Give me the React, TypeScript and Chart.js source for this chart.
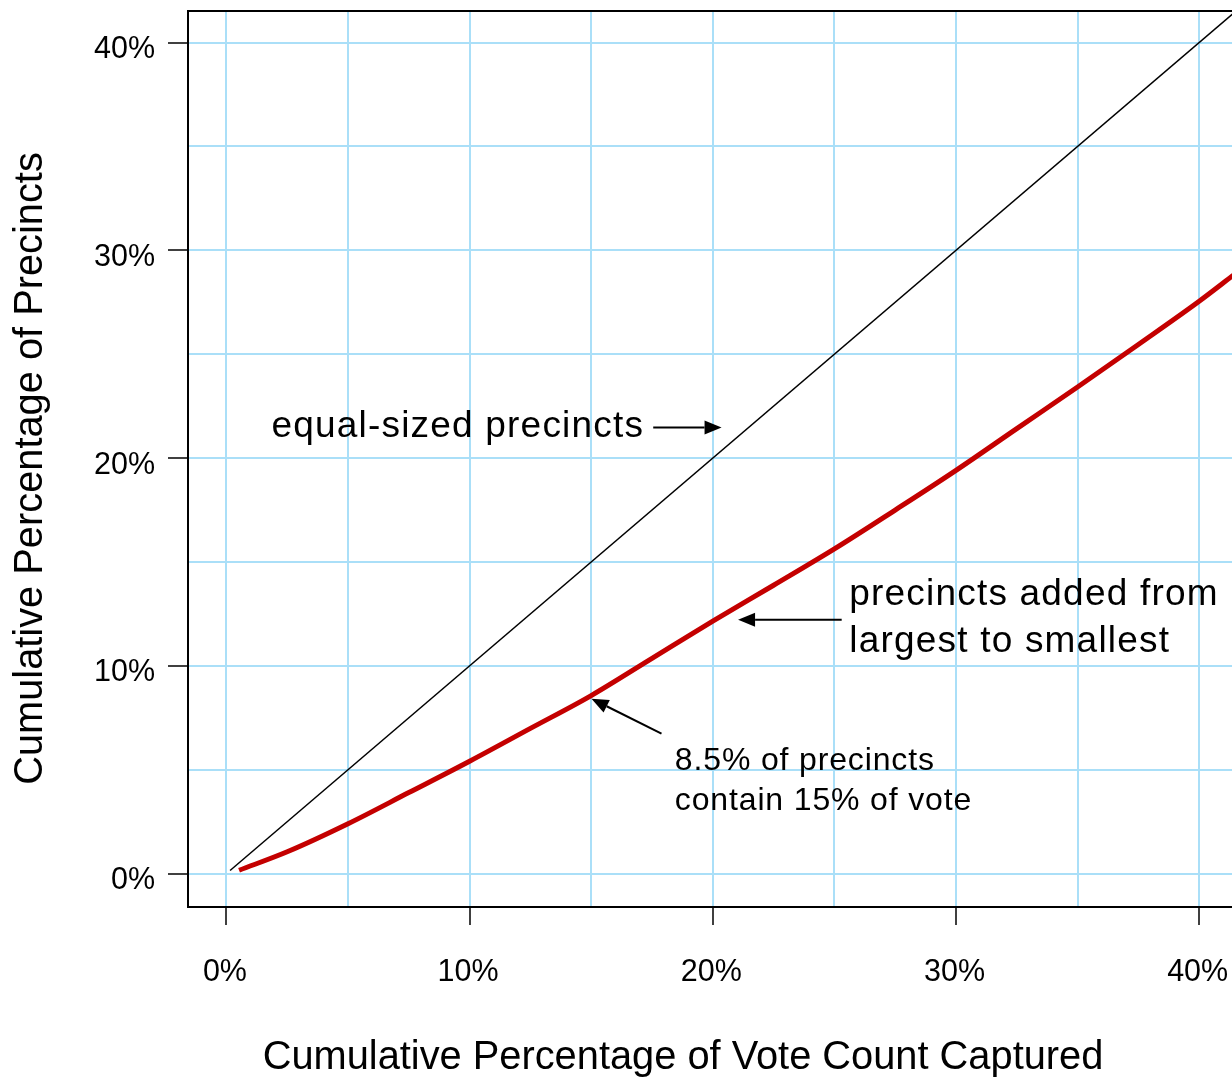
import React, { useEffect, useRef } from 'react';
import { Chart, registerables } from 'chart.js';

Chart.register(...registerables);

// ---- data (percent values) ----
const equalX = [0.15, 42];
const equalY = [0.15, 42];

const sortedX = [0.52, 2.5, 5, 7.5, 10, 12.5, 15, 17.5, 20, 22.5, 25, 27.5, 30, 32.5, 35, 37.5, 40, 41.4];
const sortedY = [0.16, 1.05, 2.4, 3.9, 5.41, 6.99, 8.57, 10.36, 12.15, 13.88, 15.63, 17.5, 19.41, 21.42, 23.42, 25.47, 27.55, 28.8];

const xTickValues = [0, 5, 10, 15, 20, 25, 30, 35, 40];
const yTickValues = [0, 5, 10, 15, 20, 25, 30, 35, 40];
const labelStep = 10;

const xTitle = 'Cumulative Percentage of Vote Count Captured';
const yTitle = 'Cumulative Percentage of Precincts';

// annotations (data coordinates, text baseline)
const noteLines = ['equal-sized precincts', 'precincts added from', 'largest to smallest', '8.5% of precincts', 'contain 15% of vote'];
const noteX = [1.85, 25.61, 25.61, 18.44, 18.44];
const noteY = [21.01, 12.91, 10.65, 4.97, 3.05];
const noteBig = [true, true, true, false, false];

const arrowFromX = [17.55, 25.3, 17.89];
const arrowFromY = [21.47, 12.22, 6.74];
const arrowToX = [20.36, 21.04, 15.01];
const arrowToY = [21.47, 12.22, 8.42];

const FONT = '"Liberation Sans", Arial, Helvetica, sans-serif';
const GRID = '#aadff8';
const RED = '#c40000';

const decorPlugin = {
  id: 'decor',
  afterDatasetsDraw(chart: any) {
    const { ctx, chartArea, scales } = chart;
    const xs = scales.x;
    const ys = scales.y;
    ctx.save();
    // top frame line
    ctx.strokeStyle = '#000';
    ctx.lineWidth = 2;
    ctx.beginPath();
    ctx.moveTo(chartArea.left - 1, chartArea.top);
    ctx.lineTo(chartArea.right, chartArea.top);
    ctx.stroke();

    // notes
    ctx.fillStyle = '#000';
    ctx.textAlign = 'left';
    ctx.textBaseline = 'alphabetic';
    noteLines.forEach((t, i) => {
      const big = noteBig[i];
      ctx.font = `${big ? 37 : 32}px ${FONT}`;
      ctx.letterSpacing = big ? '1.2px' : '0.85px';
      ctx.fillText(t, xs.getPixelForValue(noteX[i]), ys.getPixelForValue(noteY[i]));
    });
    ctx.letterSpacing = '0px';

    // arrows
    ctx.strokeStyle = '#000';
    ctx.fillStyle = '#000';
    ctx.lineWidth = 2;
    arrowFromX.forEach((_, i) => {
      const x1 = xs.getPixelForValue(arrowFromX[i]);
      const y1 = ys.getPixelForValue(arrowFromY[i]);
      const x2 = xs.getPixelForValue(arrowToX[i]);
      const y2 = ys.getPixelForValue(arrowToY[i]);
      const ang = Math.atan2(y2 - y1, x2 - x1);
      const hl = 17;
      const hw = 7;
      const bx = x2 - hl * Math.cos(ang);
      const by = y2 - hl * Math.sin(ang);
      ctx.beginPath();
      ctx.moveTo(x1, y1);
      ctx.lineTo(bx, by);
      ctx.stroke();
      ctx.beginPath();
      ctx.moveTo(x2, y2);
      ctx.lineTo(bx + hw * Math.sin(ang), by - hw * Math.cos(ang));
      ctx.lineTo(bx - hw * Math.sin(ang), by + hw * Math.cos(ang));
      ctx.closePath();
      ctx.fill();
    });

    // axis titles
    ctx.font = `39.8px ${FONT}`;
    ctx.textAlign = 'center';
    ctx.textBaseline = 'alphabetic';
    ctx.fillText(xTitle, 683, 1069);
    ctx.translate(42, 468.5);
    ctx.rotate(-Math.PI / 2);
    ctx.fillText(yTitle, 0, 0);
    ctx.restore();
  },
};

const tickMarkColor = (c: any) => (c.tick && c.tick.value % labelStep === 0 ? '#000' : 'rgba(0,0,0,0)');
const tickLabel = (v: any) => (Number(v) % labelStep === 0 ? `${v}%` : '');

export default function App() {
  const ref = useRef<HTMLCanvasElement | null>(null);

  useEffect(() => {
    if (!ref.current) return;
    const chart = new Chart(ref.current, {
      type: 'line',
      data: {
        datasets: [
          {
            label: 'equal-sized precincts',
            data: equalX.map((x, i) => ({ x, y: equalY[i] })),
            borderColor: '#000',
            borderWidth: 1.5,
            pointRadius: 0,
            tension: 0,
          },
          {
            label: 'precincts added from largest to smallest',
            data: sortedX.map((x, i) => ({ x, y: sortedY[i] })),
            borderColor: RED,
            borderWidth: 5,
            pointRadius: 0,
            cubicInterpolationMode: 'monotone',
          },
        ],
      },
      options: {
        responsive: false,
        animation: false,
        layout: { padding: { top: 11, right: 0, left: 0, bottom: 0 } },
        plugins: { legend: { display: false }, tooltip: { enabled: false } },
        scales: {
          x: {
            type: 'linear',
            min: -1.58,
            max: 41.35,
            afterBuildTicks: (s: any) => {
              s.ticks = xTickValues.map((v) => ({ value: v }));
            },
            afterFit: (s: any) => {
              s.height = 171;
              s.paddingLeft = 0;
              s.paddingRight = 0;
              s.paddingTop = 0;
              s.paddingBottom = 0;
            },
            ticks: {
              callback: tickLabel,
              font: { family: FONT, size: 30.5 },
              color: '#000',
              padding: 29,
              labelOffset: -1.5,
              autoSkip: false,
              maxRotation: 0,
            },
            grid: { color: GRID, lineWidth: 2, tickLength: 18, tickColor: tickMarkColor, tickWidth: 1.5 },
            border: { display: true, color: '#000', width: 2 },
          },
          y: {
            type: 'linear',
            min: -1.607,
            max: 41.52,
            afterBuildTicks: (s: any) => {
              s.ticks = yTickValues.map((v) => ({ value: v }));
            },
            afterFit: (s: any) => {
              s.width = 188;
              s.paddingLeft = 0;
              s.paddingRight = 0;
              s.paddingTop = 0;
              s.paddingBottom = 0;
            },
            ticks: {
              callback: tickLabel,
              font: { family: FONT, size: 30.5 },
              color: '#000',
              padding: 13,
              labelOffset: 7,
              autoSkip: false,
            },
            grid: { color: GRID, lineWidth: 2, tickLength: 20, tickColor: tickMarkColor, tickWidth: 1.5 },
            border: { display: true, color: '#000', width: 2 },
          },
        },
      },
      plugins: [decorPlugin],
    } as any);
    return () => chart.destroy();
  }, []);

  return (
    <div style={{ position: 'absolute', left: 0, top: 0, width: 1232, height: 1078, background: '#fff' }}>
      <canvas ref={ref} width={1232} height={1078} style={{ display: 'block' }} />
    </div>
  );
}
